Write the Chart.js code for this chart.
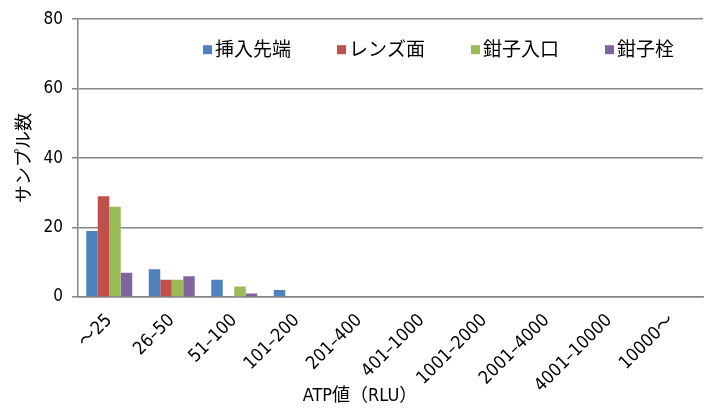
<!DOCTYPE html>
<html><head><meta charset="utf-8">
<script src="https://cdn.jsdelivr.net/npm/chart.js@4/dist/chart.umd.min.js"></script>
<style>html,body{margin:0;padding:0;background:#fff}#wrap{width:704px;height:409px}</style>
</head><body><div id="wrap"><canvas id="c" width="704" height="409"></canvas></div>
<script>
const categories = ["～25","26–50","51–100","101–200","201–400","401–1000","1001–2000","2001–4000","4001–10000","10000～"];
const seriesNames = ["挿入先端","レンズ面","鉗子入口","鉗子栓"];
const tip = [19,8,5,2,0,0,0,0,0,0];
const lens = [29,5,0,0,0,0,0,0,0,0];
const forcepsInlet = [26,5,3,0,0,0,0,0,0,0];
const forcepsPlug = [7,6,1,0,0,0,0,0,0,0];
const yTicks = [0,20,40,60,80];
const xTitle = "ATP値（RLU）";
const yTitle = "サンプル数";
const colors = ["#4F81BD","#C0504D","#9BBB59","#8064A2"];
const font = "'DejaVu Sans Condensed','Noto Sans CJK JP',sans-serif";
const cjk = "'Noto Sans CJK JP',sans-serif";
const values = [tip, lens, forcepsInlet, forcepsPlug];

const customText = {
  id:'customText',
  afterDraw(chart){
    const ctx = chart.ctx, ca = chart.chartArea;
    ctx.save();
    // legend
    ctx.font = "19px " + cjk;
    ctx.textBaseline = 'middle';
    ctx.textAlign = 'left';
    let x = ca.left + 125;
    const y = ca.top + 30;
    chart.data.datasets.forEach(ds=>{
      ctx.fillStyle = ds.backgroundColor;
      ctx.fillRect(x, y-4, 9, 9);
      ctx.fillStyle = '#000';
      ctx.fillText(ds.label, x+12, y);
      x += 12 + ctx.measureText(ds.label).width + 46;
    });
    // x title
    ctx.font = "18px " + font;
    ctx.textAlign = 'center';
    ctx.fillText(xTitle, chart.width/2 + 8, 396);
    ctx.restore();
  }
};

new Chart(document.getElementById('c'), {
  type: 'bar',
  data: {
    labels: categories,
    datasets: seriesNames.map((n,i)=>({label:n, data:values[i], backgroundColor:colors[i], borderWidth:0, categoryPercentage:0.736, barPercentage:1}))
  },
  plugins:[customText],
  options: {
    responsive:false, animation:false,
    layout:{padding:{top:14,right:1,left:0,bottom:0}},
    plugins:{ tooltip:{enabled:false}, legend:{display:false} },
    scales:{
      x:{
        grid:{display:false, drawTicks:false},
        border:{color:'#868686', width:1.5},
        ticks:{font:{family:font,size:18}, color:'#000', minRotation:45, maxRotation:45, padding:13, autoSkip:false},
        afterFit:(s)=>{s.height=112;}
      },
      y:{
        min:0, max:80,
        afterBuildTicks:(s)=>{s.ticks = yTicks.map(v=>({value:v}));},
        grid:{color:'#868686', tickLength:6, lineWidth:1.5},
        border:{color:'#868686', width:1.5},
        ticks:{font:{family:font,size:17}, color:'#000', padding:9},
        title:{display:true, text:yTitle, font:{family:cjk,size:18}, color:'#000', padding:{top:12,bottom:0}},
        afterFit:(s)=>{s.width=78;}
      }
    }
  }
});
</script></body></html>
